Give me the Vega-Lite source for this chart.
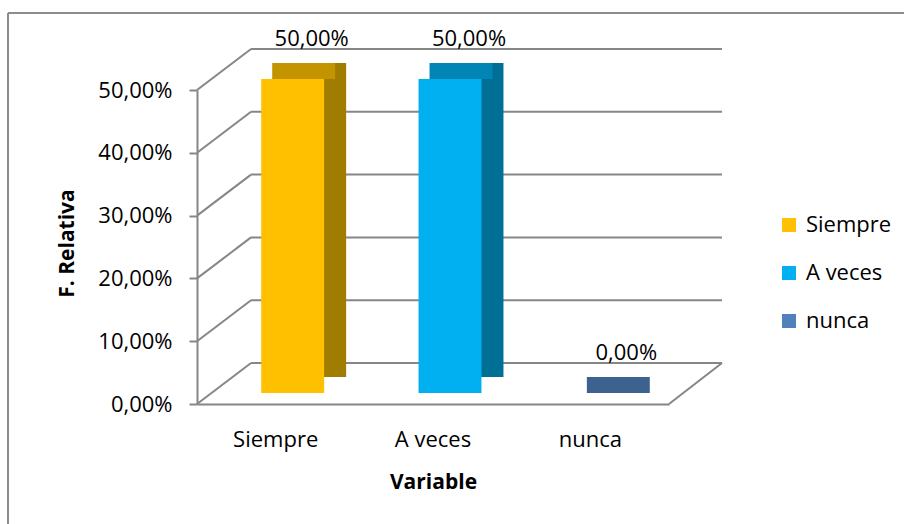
{
  "$schema": "https://vega.github.io/schema/vega-lite/v6.json",
  "width": 472,
  "height": 314,
  "autosize": {"type": "none"},
  "padding": {"left": 197, "top": 90, "right": 235, "bottom": 120},
  "background": "white",
  "config": {
    "locale": {"number": {"decimal": ",", "thousands": ".", "grouping": [3], "currency": ["", " €"]}},
    "view": {"stroke": null},
    "font": "Open Sans",
    "axisX": {
      "labelAngle": 0, "ticks": false, "domainColor": "#868686", "domainWidth": 2, "grid": false,
      "labelFontSize": 22, "labelFont": "Open Sans", "labelColor": "#000000", "labelPadding": 25,
      "titleFontSize": 21, "titleFont": "Open Sans", "titleFontWeight": "bold",
      "titleColor": "#000000", "titleY": 84, "titleBaseline": "alphabetic"
    },
    "axisY": {
      "grid": false,
      "domainColor": "#868686", "domainWidth": 2, "tickColor": "#868686", "tickWidth": 2, "tickSize": 8,
      "labelFontSize": 22, "labelFont": "Open Sans", "labelColor": "#000000", "labelPadding": 17,
      "titleFontSize": 21, "titleFont": "Open Sans", "titleFontWeight": "bold",
      "titleColor": "#000000", "titleX": -130, "titleY": 153, "titleAlign": "center", "titleBaseline": "middle", "titleAngle": -90
    }
  },
  "datasets": {
    "bars": [
      {"categoria": "Siempre", "valor": 0.5},
      {"categoria": "A veces", "valor": 0.5},
      {"categoria": "nunca", "valor": 0}
    ],
    "grid": [
      {"valor": 0}, {"valor": 0.1}, {"valor": 0.2}, {"valor": 0.3}, {"valor": 0.4}, {"valor": 0.5}
    ],
    "borde": [
      {"valor": 0.5}
    ]
  },
  "resolve": {"scale": {"color": "independent"}},
  "layer": [
    {
      "data": {"name": "borde"},
      "mark": {"type": "rule", "color": "#8C8C8C", "strokeWidth": 2, "xOffset": -267.65, "x2Offset": -267.65, "yOffset": -77, "y2Offset": 130},
      "encoding": {
        "x": {"datum": "Siempre", "type": "nominal", "title": "Variable"},
        "x2": {"datum": "Siempre"},
        "y": {"field": "valor", "type": "quantitative", "title": "F. Relativa", "axis": {"format": ".2%", "values": [0, 0.1, 0.2, 0.3, 0.4, 0.5]}},
        "y2": {"datum": 0}
      }
    },
    {
      "data": {"name": "borde"},
      "mark": {"type": "rule", "color": "#8C8C8C", "strokeWidth": 2, "xOffset": -267.65, "x2Offset": 330, "yOffset": -77},
      "encoding": {
        "x": {"datum": "Siempre", "type": "nominal", "title": "Variable"},
        "x2": {"datum": "nunca"},
        "y": {"field": "valor", "type": "quantitative", "title": "F. Relativa", "axis": {"format": ".2%", "values": [0, 0.1, 0.2, 0.3, 0.4, 0.5]}}
      }
    },
    {
      "data": {"name": "grid"},
      "mark": {"type": "rule", "color": "#868686", "strokeWidth": 2, "xOffset": -24.65, "x2Offset": 131.65, "yOffset": -41},
      "encoding": {
        "x": {"datum": "Siempre", "type": "nominal", "title": "Variable"},
        "x2": {"datum": "nunca"},
        "y": {"field": "valor", "type": "quantitative", "title": "F. Relativa", "axis": {"format": ".2%", "values": [0, 0.1, 0.2, 0.3, 0.4, 0.5]}}
      }
    },
    {
      "data": {"name": "grid"},
      "mark": {"type": "rule", "color": "#868686", "strokeWidth": 2, "xOffset": -78.65, "x2Offset": -24.65, "y2Offset": -41},
      "encoding": {
        "x": {"datum": "Siempre", "type": "nominal", "title": "Variable"},
        "x2": {"datum": "Siempre"},
        "y": {"field": "valor", "type": "quantitative", "title": "F. Relativa", "axis": {"format": ".2%", "values": [0, 0.1, 0.2, 0.3, 0.4, 0.5]}},
        "y2": {"field": "valor"}
      }
    },
    {
      "data": {"values": [{"valor": 0}]},
      "mark": {"type": "rule", "color": "#868686", "strokeWidth": 2, "xOffset": 78.65, "x2Offset": 131.65, "y2Offset": -41},
      "encoding": {
        "x": {"datum": "nunca", "type": "nominal", "title": "Variable"},
        "x2": {"datum": "nunca"},
        "y": {"field": "valor", "type": "quantitative", "title": "F. Relativa", "axis": {"format": ".2%", "values": [0, 0.1, 0.2, 0.3, 0.4, 0.5]}},
        "y2": {"field": "valor"}
      }
    },
    {
      "data": {"name": "bars"},
      "mark": {"type": "bar", "xOffset": 39, "x2Offset": 39, "yOffset": -27, "y2Offset": -27},
      "encoding": {
        "x": {"field": "categoria", "type": "nominal", "title": "Variable"},
        "y": {"field": "valor", "type": "quantitative", "title": "F. Relativa", "axis": {"format": ".2%", "values": [0, 0.1, 0.2, 0.3, 0.4, 0.5]}},
        "color": {
          "field": "categoria", "type": "nominal",
          "scale": {"domain": ["Siempre", "A veces", "nunca"], "range": ["#A07C00", "#006F96", "#2E4B6E"]},
          "legend": null
        }
      }
    },
    {
      "data": {"name": "bars"},
      "mark": {"type": "bar", "xOffset": 28, "x2Offset": 28, "yOffset": -27, "y2Offset": -11},
      "encoding": {
        "x": {"field": "categoria", "type": "nominal", "title": "Variable"},
        "y": {"field": "valor", "type": "quantitative", "title": "F. Relativa", "axis": {"format": ".2%", "values": [0, 0.1, 0.2, 0.3, 0.4, 0.5]}},
        "y2": {"field": "valor"},
        "color": {
          "field": "categoria", "type": "nominal",
          "scale": {"domain": ["Siempre", "A veces", "nunca"], "range": ["#C39400", "#0085B5", "#3E628F"]},
          "legend": null
        }
      }
    },
    {
      "data": {"name": "bars"},
      "mark": {"type": "bar", "xOffset": 17, "x2Offset": 17, "yOffset": -11, "y2Offset": -11},
      "encoding": {
        "x": {
          "field": "categoria", "type": "nominal", "title": "Variable",
          "scale": {"domain": ["Siempre", "A veces", "nunca"], "paddingInner": 0.6, "paddingOuter": 0.3}
        },
        "y": {
          "field": "valor", "type": "quantitative", "title": "F. Relativa",
          "scale": {"domain": [0, 0.5], "nice": false},
          "axis": {"format": ".2%", "values": [0, 0.1, 0.2, 0.3, 0.4, 0.5]}
        },
        "color": {
          "field": "categoria", "type": "nominal",
          "scale": {"domain": ["Siempre", "A veces", "nunca"], "range": ["#FFC000", "#00B0F0", "#4F81BD"]},
          "legend": {
            "orient": "none", "legendX": 581, "legendY": 124, "title": null,
            "symbolType": "square", "symbolSize": 196, "symbolStrokeWidth": 0,
            "labelFontSize": 22, "labelFont": "Open Sans", "labelColor": "#000000",
            "labelOffset": 6, "rowPadding": 26
          }
        }
      }
    },
    {
      "data": {"name": "bars"},
      "mark": {"type": "text", "dx": 36, "dy": -44, "fontSize": 22, "font": "Open Sans", "baseline": "alphabetic", "color": "#000000"},
      "encoding": {
        "x": {"field": "categoria", "type": "nominal", "title": "Variable"},
        "y": {"field": "valor", "type": "quantitative", "title": "F. Relativa", "axis": {"format": ".2%", "values": [0, 0.1, 0.2, 0.3, 0.4, 0.5]}},
        "text": {"field": "valor", "type": "quantitative", "format": ".2%"}
      }
    }
  ]
}
